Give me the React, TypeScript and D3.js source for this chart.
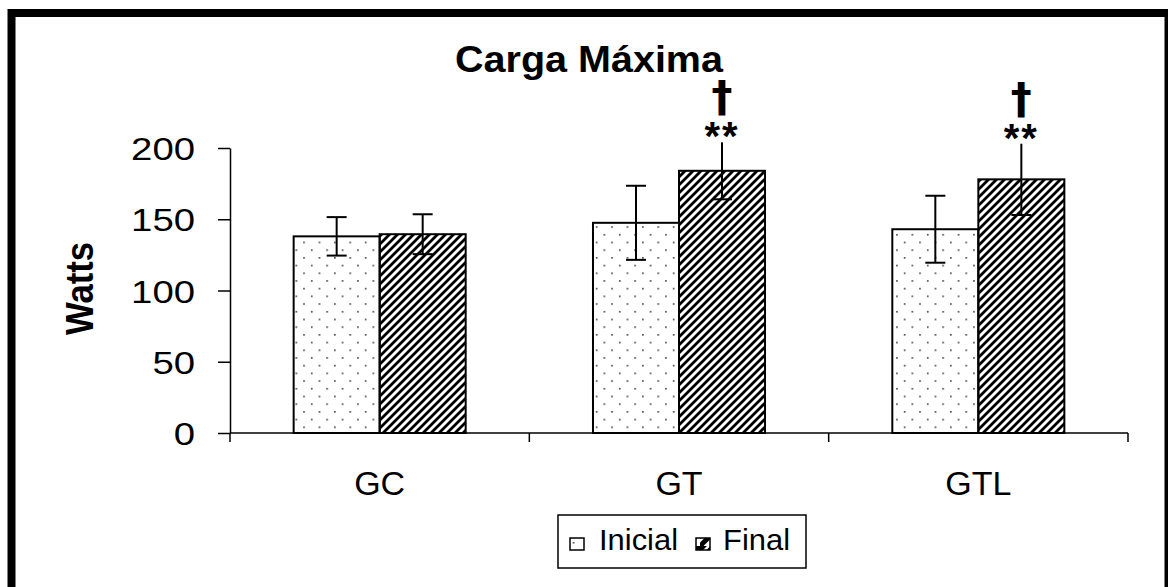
import React, { useEffect, useRef } from "react";
import * as d3 from "d3";

// values (Watts)
const categories = ["GC", "GT", "GTL"];
const series = ["Inicial", "Final"];
const inicial = [138, 147.5, 143];
const final = [139.5, 184, 178];
const inicialErr = [13.5, 26, 23.5];
const finalErr = [14, 20, 25];
const starMarks = ["", "**", "**"];
const daggerMarks = ["", "†", "†"];
const yTicks = [0, 50, 100, 150, 200];

const W = 1168;
const H = 587;
const FONT = "'Liberation Sans', Arial, sans-serif";

const App = () => {
  const axisRef = useRef<SVGGElement>(null);

  const y = d3.scaleLinear().domain([0, 200]).range([433, 148]);
  const x = d3.scaleBand().domain(categories).range([230, 1128]).padding(0);
  const xs = d3
    .scaleBand()
    .domain(series)
    .range([0, x.bandwidth()])
    .paddingInner(0)
    .paddingOuter(0.74);

  useEffect(() => {
    const g = d3.select(axisRef.current);
    g.selectAll("*").remove();

    // y axis
    const yAxis = d3.axisLeft(y).tickValues(yTicks).tickSize(12).tickSizeOuter(0).tickPadding(23);
    const ya = g.append("g").attr("transform", "translate(230,0)").call(yAxis);
    ya.select(".domain").attr("stroke", "#000").attr("stroke-width", 1.5);
    ya.selectAll(".tick line").attr("stroke", "#000").attr("stroke-width", 1.5);
    ya.selectAll(".tick text")
      .attr("font-family", FONT)
      .attr("font-size", 32)
      .attr("fill", "#000")
      .attr("dy", "0.36em")
      .attr("textLength", (d: any) => String(d).length * 21.3)
      .attr("lengthAdjust", "spacingAndGlyphs");

    // x axis: ticks at category boundaries
    const xa = g.append("g").attr("transform", "translate(0,433)");
    xa.append("line")
      .attr("x1", 230)
      .attr("x2", 1128)
      .attr("stroke", "#000")
      .attr("stroke-width", 1.5);
    const bounds = categories.map((c) => x(c)!).concat([x.range()[1]]);
    xa.selectAll(".bt")
      .data(bounds)
      .join("line")
      .attr("x1", (d) => d)
      .attr("x2", (d) => d)
      .attr("y1", 0)
      .attr("y2", 9)
      .attr("stroke", "#000")
      .attr("stroke-width", 1.5);
    xa.selectAll(".lbl")
      .data(categories)
      .join("text")
      .attr("x", (d) => x(d)! + x.bandwidth() / 2)
      .attr("y", 62)
      .attr("text-anchor", "middle")
      .attr("font-family", FONT)
      .attr("font-size", 34)
      .attr("fill", "#000")
      .text((d) => d);
  }, []);

  return (
    <svg width={W} height={H} style={{ position: "absolute", left: 0, top: 0, background: "#fff" }}>
      <defs>
        <pattern id="dots" patternUnits="userSpaceOnUse" width="15.4" height="15.4">
          <rect x="3" y="3" width="1.5" height="1.5" fill="#222" />
          <rect x="10.7" y="10.7" width="1.5" height="1.5" fill="#222" />
        </pattern>
        <pattern id="hatch" patternUnits="userSpaceOnUse" width="8" height="8">
          <path d="M-2,2 L2,-2 M0,8 L8,0 M6,10 L10,6" stroke="#000" strokeWidth="2.8" />
        </pattern>
        <pattern id="hatchSmall" patternUnits="userSpaceOnUse" width="14" height="14">
          <path d="M0,14 L14,0" stroke="#000" strokeWidth="5" />
          <path d="M0,0 L7,0 L0,7 Z" fill="#000" />
        </pattern>
      </defs>

      {/* outer frame */}
      <rect x={11.5} y={13} width={1157} height={600} fill="none" stroke="#000" strokeWidth={8} />

      <text
        x={589}
        y={72}
        textAnchor="middle"
        fontFamily={FONT}
        fontWeight="bold"
        fontSize={36}
        textLength={268}
        lengthAdjust="spacingAndGlyphs"
      >
        Carga Máxima
      </text>

      <text
        transform="translate(93,288.5) rotate(-90)"
        textAnchor="middle"
        fontFamily={FONT}
        fontWeight="bold"
        fontSize={38}
        textLength={93}
        lengthAdjust="spacingAndGlyphs"
      >
        Watts
      </text>

      <g ref={axisRef} />

      {categories.map((c, i) => {
        const gx = x(c)!;
        const bw = xs.bandwidth();
        const xi = gx + xs("Inicial")!;
        const xf = gx + xs("Final")!;
        const ci = xi + bw / 2;
        const cf = xf + bw / 2;
        const cap = 10;
        const fTop = y(final[i] + finalErr[i]);
        return (
          <g key={c}>
            <rect x={xi} y={y(inicial[i])} width={bw} height={y(0) - y(inicial[i])} fill="url(#dots)" stroke="#000" strokeWidth={2} />
            <rect x={xf} y={y(final[i])} width={bw} height={y(0) - y(final[i])} fill="url(#hatch)" stroke="#000" strokeWidth={2} />
            {/* error bars */}
            <g stroke="#000" strokeWidth={2}>
              <line x1={ci} x2={ci} y1={y(inicial[i] + inicialErr[i])} y2={y(inicial[i] - inicialErr[i])} />
              <line x1={ci - cap} x2={ci + cap} y1={y(inicial[i] + inicialErr[i])} y2={y(inicial[i] + inicialErr[i])} />
              <line x1={ci - cap} x2={ci + cap} y1={y(inicial[i] - inicialErr[i])} y2={y(inicial[i] - inicialErr[i])} />
              <line x1={cf} x2={cf} y1={fTop} y2={y(final[i] - finalErr[i])} />
              {starMarks[i] === "" && <line x1={cf - cap} x2={cf + cap} y1={fTop} y2={fTop} />}
              <line x1={cf - cap} x2={cf + cap} y1={y(final[i] - finalErr[i])} y2={y(final[i] - finalErr[i])} />
            </g>
            {starMarks[i] && (
              <text textAnchor="middle" fontWeight="bold" fill="#000">
                <tspan x={cf} y={fTop - 31} fontFamily="'DejaVu Sans', sans-serif" fontSize={42}>
                  {daggerMarks[i]}
                </tspan>
                <tspan x={cf} y={fTop + 8} fontFamily={FONT} fontSize={40} letterSpacing={2}>
                  {starMarks[i]}
                </tspan>
              </text>
            )}
          </g>
        );
      })}

      {/* legend */}
      <g>
        <rect x={558} y={515} width={248} height={53} fill="#fff" stroke="#000" strokeWidth={1.5} />
        <rect x={570} y={538} width={14} height={12} fill="url(#dots)" stroke="#000" strokeWidth={1.5} />
        <text x={599} y={550} fontFamily={FONT} fontSize={30} textLength={79} lengthAdjust="spacingAndGlyphs">
          Inicial
        </text>
        <rect x={696} y={538} width={14} height={12} fill="url(#hatchSmall)" stroke="#000" strokeWidth={1.5} />
        <text x={723} y={550} fontFamily={FONT} fontSize={30} textLength={67} lengthAdjust="spacingAndGlyphs">
          Final
        </text>
      </g>
    </svg>
  );
};

export default App;
